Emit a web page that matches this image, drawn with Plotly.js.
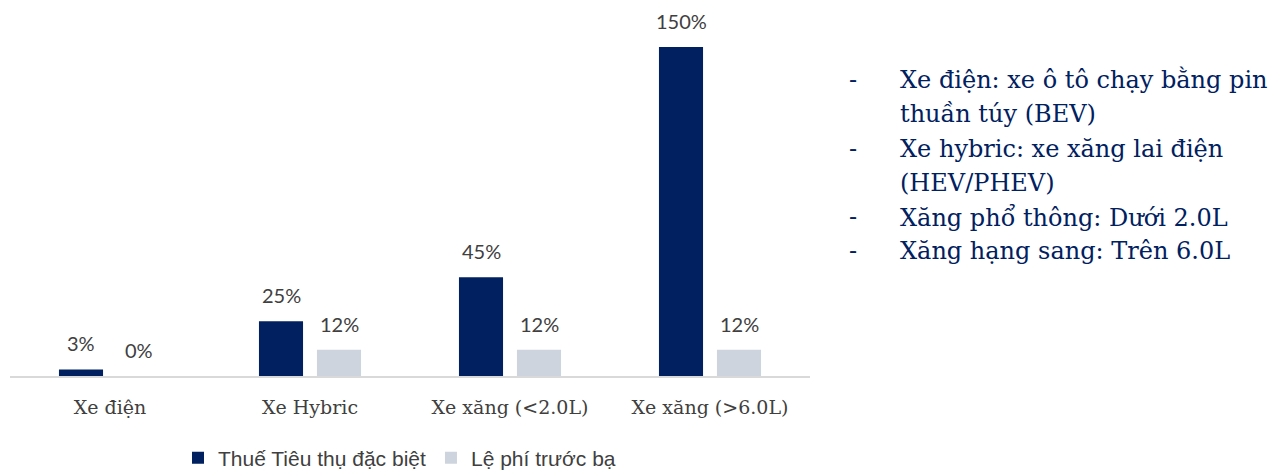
<!DOCTYPE html>
<html>
<head>
<meta charset="utf-8">
<script src="https://cdn.plot.ly/plotly-3.0.1.min.js"></script>
<style>html,body{margin:0;padding:0;background:#fff;}#chart{width:1272px;height:470px;}</style>
</head>
<body>
<div id="chart"></div>
<script>
const categories = ["Xe điện", "Xe Hybric", "Xe xăng (<2.0L)", "Xe xăng (>6.0L)"];
const seriesNames = ["Thuế Tiêu thụ đặc biệt", "Lệ phí trước bạ"];
const ttdb = [3, 25, 45, 150];
const lptb = [0, 12, 12, 12];
const notes = [
  ["-", "Xe điện: xe ô tô chạy bằng pin"],
  ["", "thuần túy (BEV)"],
  ["-", "Xe hybric: xe xăng lai điện"],
  ["", "(HEV/PHEV)"],
  ["-", "Xăng phổ thông: Dưới 2.0L"],
  ["-", "Xăng hạng sang: Trên 6.0L"]
];

const W = 1272, H = 470;
const M = {l: 10, r: 462, t: 0, b: 94};
const plotW = W - M.l - M.r, plotH = H - M.t - M.b;
const labelFont = {family: "Lato, 'Open Sans', sans-serif", size: 20, color: "#404040"};

const traces = [
  {type: "bar", name: seriesNames[0], x: categories, y: ttdb, marker: {color: "#002060"}, hoverinfo: "skip"},
  {type: "bar", name: seriesNames[1], x: categories, y: lptb, marker: {color: "#cdd4dd"}, hoverinfo: "skip"}
];

const annotations = [];
const shiftPx = 29;
[ttdb, lptb].forEach((vals, s) => {
  vals.forEach((v, i) => {
    annotations.push({
      x: categories[i], y: v, xref: "x", yref: "y",
      text: v + "%", showarrow: false, yanchor: "bottom",
      xshift: s === 0 ? -shiftPx : shiftPx, yshift: 12,
      font: labelFont
    });
  });
});

const lineY = [80, 114, 149, 183, 217, 251];
const noteFont = {family: "'DejaVu Serif', serif", size: 24, color: "#002060"};
notes.forEach((n, i) => {
  const yp = (plotH - lineY[i]) / plotH;
  if (n[0]) annotations.push({
    xref: "paper", yref: "paper", x: (853 - M.l) / plotW, y: yp,
    xanchor: "center", yanchor: "middle", showarrow: false, text: n[0], font: noteFont
  });
  annotations.push({
    xref: "paper", yref: "paper", x: (898 - M.l) / plotW, y: yp,
    xanchor: "left", yanchor: "middle", showarrow: false, text: n[1], font: noteFont
  });
});

const layout = {
  width: W, height: H,
  margin: M,
  paper_bgcolor: "#fff", plot_bgcolor: "#fff",
  barmode: "group", bargap: 0.42, bargroupgap: 0.24,
  showlegend: true,
  legend: {orientation: "h", x: (178 - M.l) / plotW, xanchor: "left", yref: "container", y: (H - 458) / H, yanchor: "middle",
    font: {family: "'Liberation Sans', Arial, sans-serif", size: 21, color: "#404040"}, traceorder: "normal"},
  xaxis: {type: "category", automargin: false, showline: true, linecolor: "#d9d9d9", linewidth: 1.5, ticks: "", showgrid: false, zeroline: false,
    tickfont: {family: "'DejaVu Serif', serif", size: 19, color: "#404040"}, ticklabelstandoff: 14, fixedrange: true},
  yaxis: {automargin: false, range: [0, plotH / 2.193], visible: false, showgrid: false, zeroline: false, fixedrange: true},
  annotations: annotations
};

Plotly.newPlot("chart", traces, layout, {displayModeBar: false, staticPlot: true});
</script>
</body>
</html>
